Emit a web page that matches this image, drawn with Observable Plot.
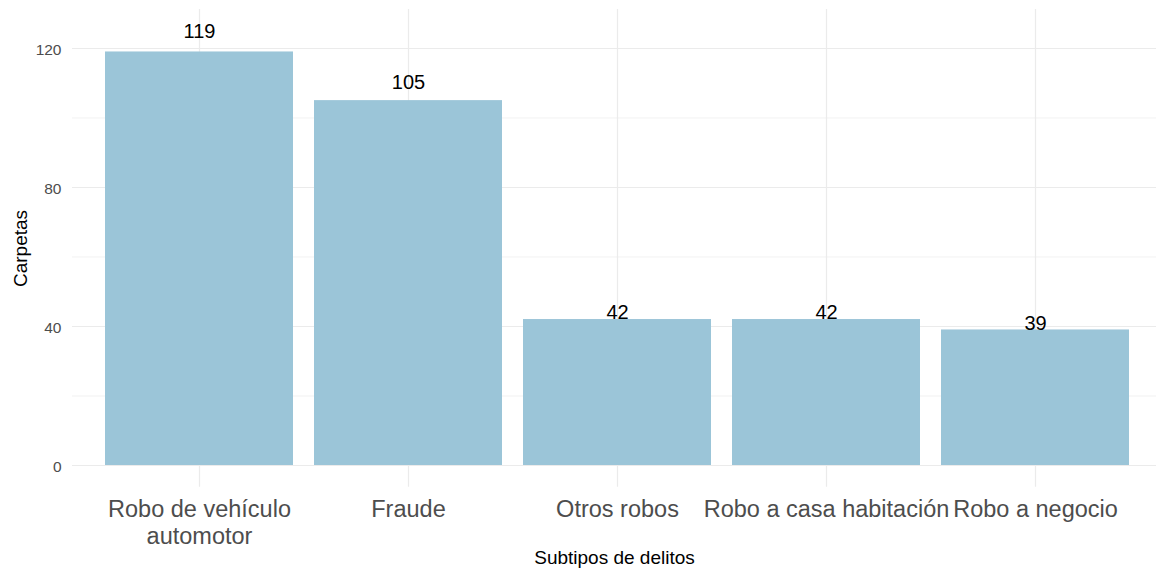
<!DOCTYPE html>
<html>
<head>
<meta charset="utf-8">
<script src="https://cdn.jsdelivr.net/npm/d3@7"></script>
<script src="https://cdn.jsdelivr.net/npm/@observablehq/plot@0.6"></script>
<style>
  html, body { margin: 0; padding: 0; background: white; }
</style>
</head>
<body>
<div id="chart"></div>
<script>
const categories = ["Robo de vehículo\nautomotor", "Fraude", "Otros robos", "Robo a casa habitación", "Robo a negocio"];
const counts = [119, 105, 42, 42, 39];
const yTicks = [0, 40, 80, 120];
const yMinorTicks = [20, 60, 100];
const xTitle = "Subtipos de delitos";
const yTitle = "Carpetas";

const data = categories.map((c, i) => ({cat: c, n: counts[i]}));
const yDomain = [-6.25, 131.25];

const chart = Plot.plot({
  width: 1156,
  height: 578,
  marginLeft: 72,
  marginRight: 0,
  marginTop: 9,
  marginBottom: 91,
  x: {domain: categories, range: [72.3, 1161.7], paddingInner: 0.1, paddingOuter: 0.15, axis: null},
  y: {domain: yDomain, range: [486.7, 8.9], axis: null},
  style: {fontFamily: "'Liberation Sans', Arial, sans-serif", background: "white", overflow: "visible"},
  marks: [
    Plot.ruleY(yMinorTicks, {y: d => d, stroke: "#ebebeb", strokeWidth: 0.7}),
    Plot.ruleY(yTicks, {y: d => d, stroke: "#ebebeb", strokeWidth: 1.2}),
    Plot.ruleX(categories, {x: d => d, y1: yDomain[0], y2: yDomain[1], stroke: "#ebebeb", strokeWidth: 1.2}),
    Plot.barY(data, {x: "cat", y: "n", fill: "#9bc5d8"}),
    Plot.text(data, {x: "cat", y: d => d.n * 1.05, text: d => String(d.n), fontSize: 20, fill: "black"}),
    Plot.text(yTicks, {y: d => d, text: d => String(d), frameAnchor: "left", textAnchor: "end", dx: -11, dy: 2, fontSize: 15.5, fill: "#4d4d4d"}),
    Plot.text(categories, {x: d => d, text: d => d, frameAnchor: "bottom", lineAnchor: "top", dy: 10, lineHeight: 1.15, fontSize: 23.5, fill: "#4d4d4d"}),
    Plot.text([xTitle], {text: d => d, frameAnchor: "bottom", dy: 76, fontSize: 19, fill: "black"}),
    Plot.text([yTitle], {text: d => d, frameAnchor: "left", textAnchor: "middle", dx: -52, rotate: -90, fontSize: 19, fill: "black"})
  ]
});
document.getElementById("chart").appendChild(chart);
</script>
</body>
</html>
